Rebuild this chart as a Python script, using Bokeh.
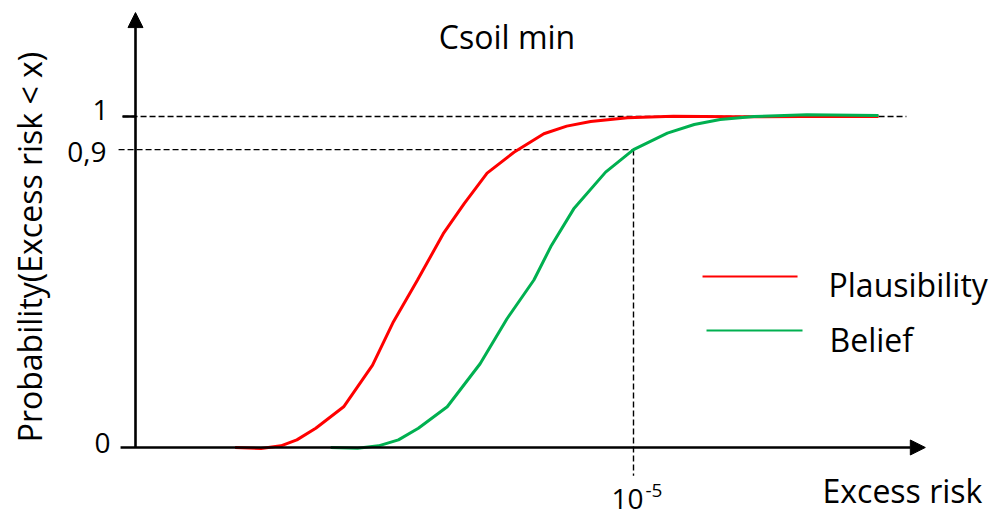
import numpy as np
from bokeh.plotting import figure
from bokeh.models import Arrow, NormalHead, Range1d
from bokeh.embed import file_html
from bokeh.resources import INLINE
from bokeh.core.properties import value

# Horizontal axis: log-scaled excess risk, one unit per decade, 10^-5 placed at 5.
plaus_x = [1.00, 1.26, 1.46, 1.62, 1.81, 2.09, 2.38, 2.59, 2.83, 3.09, 3.30,
           3.53, 3.80, 4.10, 4.33, 4.57, 4.94, 5.40, 6.01, 6.68, 7.46]
plaus_y = [0.0, -0.003, 0.005, 0.023, 0.058, 0.123, 0.249, 0.380, 0.505, 0.646, 0.737,
           0.829, 0.892, 0.948, 0.971, 0.985, 0.996, 1.001, 0.999, 1.0, 1.0]

belief_x = [1.96, 2.23, 2.44, 2.64, 2.84, 3.13, 3.46, 3.73, 4.00, 4.17, 4.40,
            4.72, 5.00, 5.34, 5.61, 5.87, 6.21, 6.74, 7.46]
belief_y = [0.0, -0.002, 0.005, 0.023, 0.058, 0.123, 0.253, 0.389, 0.506, 0.607, 0.721,
            0.832, 0.900, 0.950, 0.976, 0.991, 1.0, 1.005, 1.003]

y_ticks = [0.0, 0.9, 1.0]
y_tick_labels = ["0", "0,9", "1"]
x_tick = 5.0
x_tick_base, x_tick_exp = "10", "-5"

title = "Csoil min"
x_title = "Excess risk"
y_title = "Probability(Excess risk < x)"
series_names = ["Plausibility", "Belief"]
series_colors = ["#ff0000", "#00b050"]

FONT = value("Open Sans")

p = figure(width=994, height=517,
           x_range=Range1d(-1.3554, 8.6245), y_range=Range1d(-0.2115, 1.3505),
           output_backend="svg", toolbar_location=None,
           x_axis_location=None, y_axis_location=None,
           min_border=0, outline_line_color=None)
p.grid.visible = False
p.background_fill_color = "white"
p.border_fill_color = "white"

# reference guides
p.line([-0.13, 7.74], [y_ticks[2], y_ticks[2]], line_color="black", line_width=1.4, line_dash="6 3")
p.line([-0.17, x_tick], [y_ticks[1], y_ticks[1]], line_color="black", line_width=1.4, line_dash="6 3")
p.line([x_tick, x_tick], [y_ticks[1], -0.085], line_color="black", line_width=1.4, line_dash="6 3")

# curves
p.line(plaus_x, plaus_y, line_color=series_colors[0], line_width=3)
p.line(belief_x, belief_y, line_color=series_colors[1], line_width=3)

# axes drawn as arrows
p.add_layout(Arrow(end=NormalHead(size=15, fill_color="black", line_color="black"),
                   x_start=0, y_start=0, x_end=0, y_end=1.314,
                   line_color="black", line_width=2.6))
p.add_layout(Arrow(end=NormalHead(size=15, fill_color="black", line_color="black"),
                   x_start=-0.15, y_start=0, x_end=7.93, y_end=0,
                   line_color="black", line_width=2.6))
p.segment(x0=[-0.13], y0=[y_ticks[2]], x1=[0], y1=[y_ticks[2]], line_color="black", line_width=2.6)

# y tick labels
p.text(x=[0, 0, 0], y=y_ticks, text=y_tick_labels,
       x_offset=[-25, -29, -27], y_offset=[-4, 2, -7],
       text_font=FONT, text_font_size="28px", text_color="black",
       text_align="right", text_baseline="alphabetic")

# x tick label 10^-5
p.text(x=[x_tick], y=[0], text=[x_tick_base], x_offset=10, y_offset=52,
       text_font=FONT, text_font_size="28px", text_color="black",
       text_align="right", text_baseline="alphabetic")
p.text(x=[x_tick], y=[0], text=[x_tick_exp], x_offset=12, y_offset=43,
       text_font=FONT, text_font_size="19px", text_color="black",
       text_align="left", text_baseline="alphabetic")

# titles
p.text(x=[3.73], y=[1.2417], text=[title], text_font=FONT, text_font_size="32px",
       text_color="black", text_align="center", text_baseline="alphabetic")
p.text(x=[6.898], y=[-0.130], text=[x_title], text_font=FONT, text_font_size="32px",
       text_color="black", text_align="left", text_baseline="alphabetic")
p.text(x=[-1.06], y=[0.6057], text=[y_title], angle=np.pi / 2, text_font=FONT,
       text_font_size="32px", text_color="black", text_align="center",
       text_baseline="alphabetic")

# legend
p.line([5.693, 6.647], [0.5166, 0.5166], line_color=series_colors[0], line_width=1.8)
p.line([5.733, 6.697], [0.3535, 0.3535], line_color=series_colors[1], line_width=1.8)
p.text(x=[6.958, 6.968], y=[0.4925, 0.3262], text=series_names, text_font=FONT,
       text_font_size="32px", text_color="black", text_align="left",
       text_baseline="alphabetic")

open("out.html", "w").write(file_html(p, INLINE))
